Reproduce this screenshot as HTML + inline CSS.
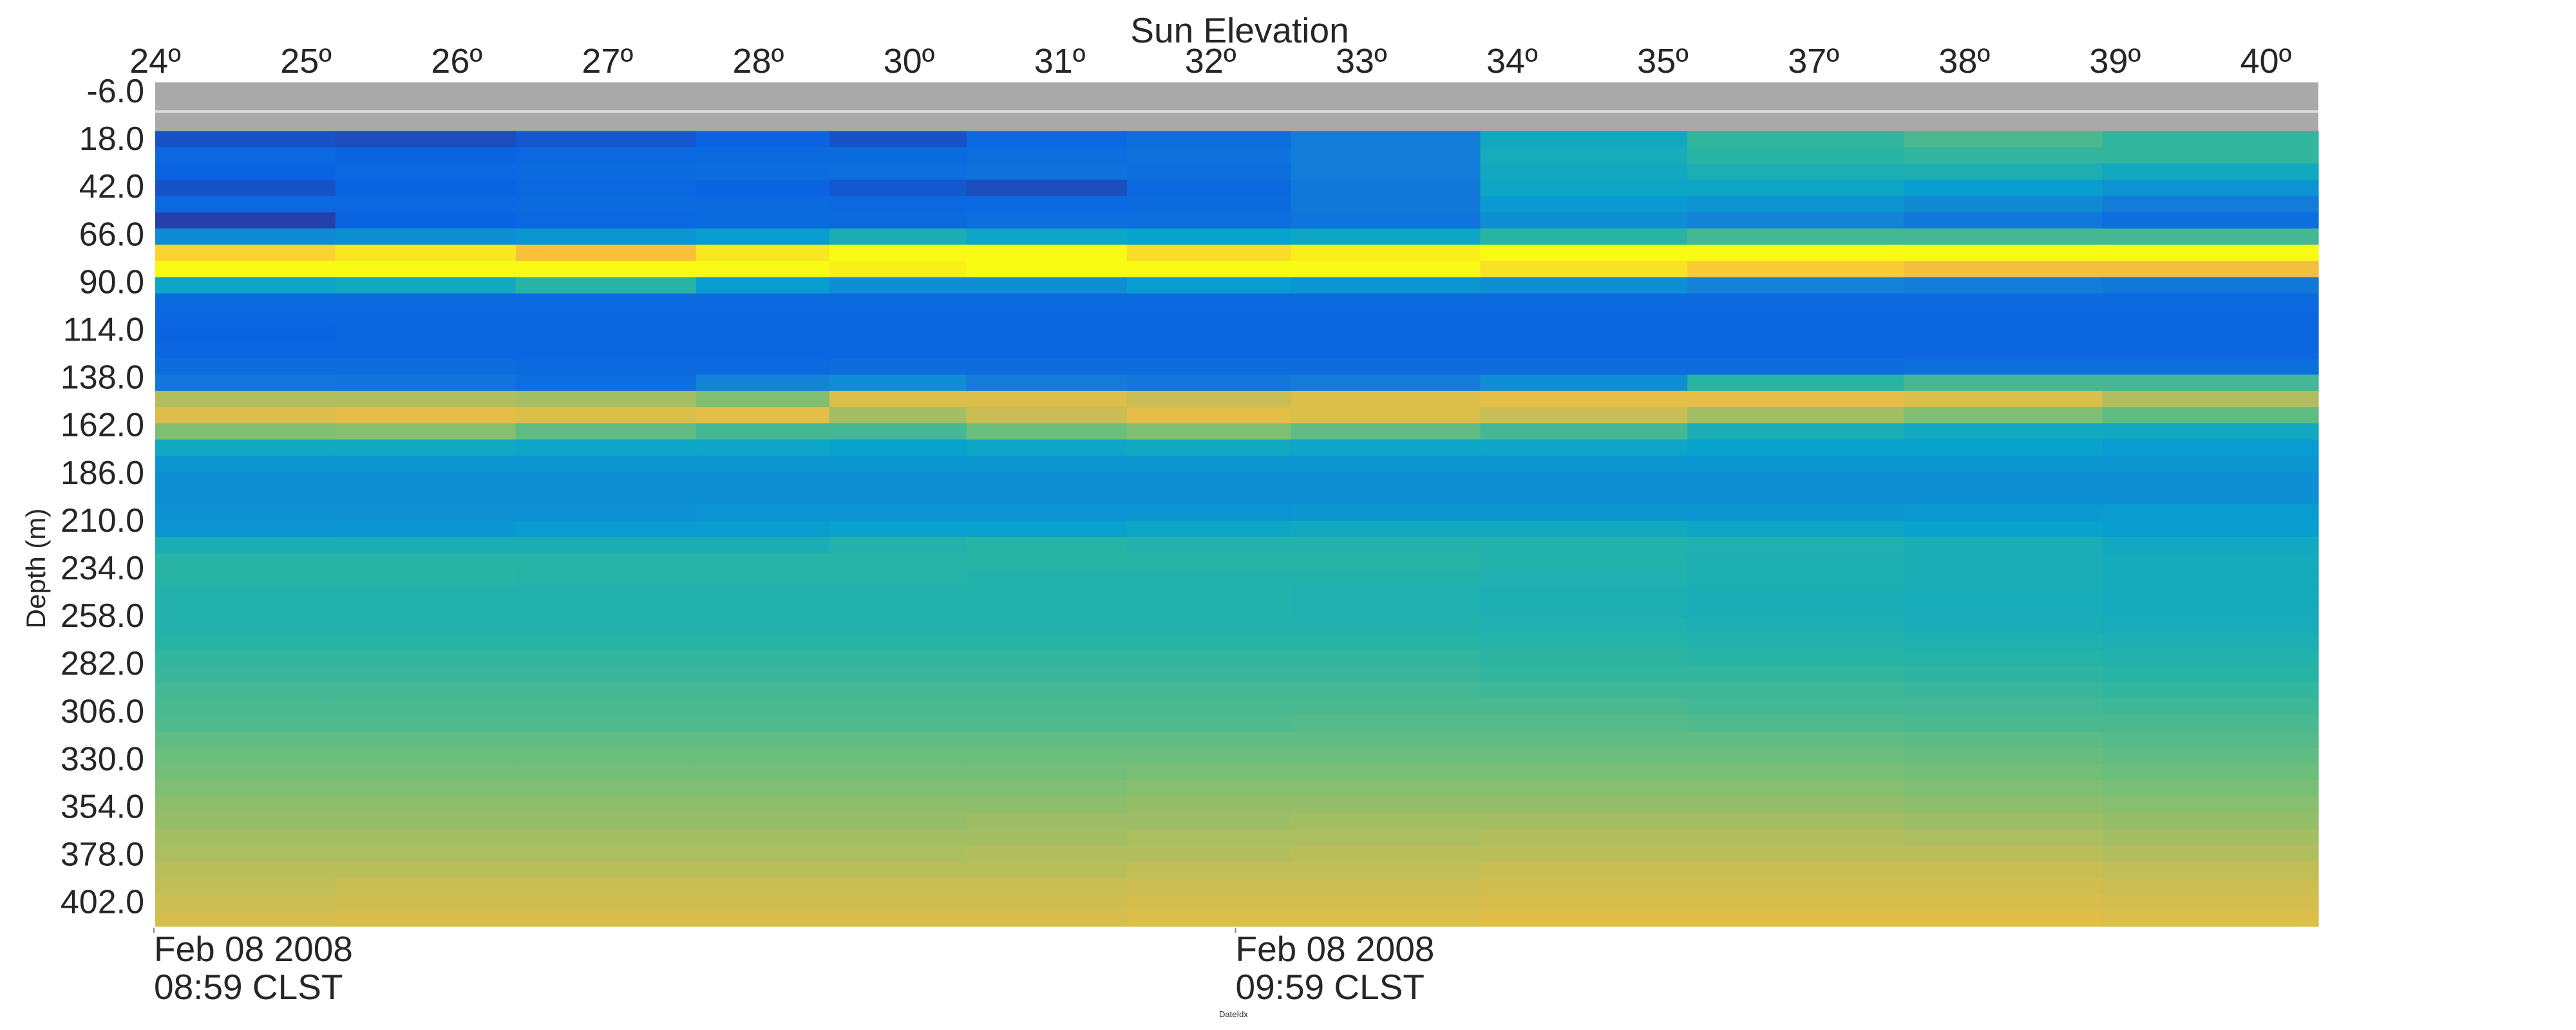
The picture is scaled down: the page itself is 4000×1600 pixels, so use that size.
<!DOCTYPE html>
<html><head><meta charset="utf-8"><style>
html,body{margin:0;padding:0;background:#fff;width:4000px;height:1600px;overflow:hidden}
svg text{font-family:"Liberation Sans",Arial,sans-serif;fill:#262626}
</style></head><body>
<svg id="chart" width="4000" height="1600" viewBox="0 0 4000 1600" xmlns="http://www.w3.org/2000/svg">
<g id="cells"></g>
<g id="axes"></g>
</svg>
<script>
// ---- data ----
const depthStart = -6;
const depthStep = 8;
const depthCount = 52;
const noDataDepths = [-6, 2, 10];
const colStartMin = [0, 10, 20, 30, 37.4, 45, 53.9, 63, 73.5, 85, 97, 108];
const colEndMin = 120;
// colormap values (0..1) per depth row from 18 m down, per time segment
const values = [
[0.07,0.06,0.08,0.10,0.07,0.12,0.15,0.22,0.42,0.52,0.56,0.52],
[0.12,0.10,0.12,0.13,0.13,0.15,0.17,0.22,0.44,0.50,0.52,0.52],
[0.10,0.12,0.13,0.14,0.15,0.17,0.15,0.22,0.42,0.46,0.46,0.42],
[0.07,0.10,0.12,0.10,0.08,0.06,0.12,0.20,0.40,0.40,0.36,0.32],
[0.12,0.12,0.13,0.13,0.12,0.12,0.13,0.20,0.34,0.32,0.28,0.22],
[0.04,0.10,0.12,0.13,0.13,0.15,0.15,0.18,0.30,0.25,0.20,0.15],
[0.28,0.30,0.32,0.35,0.45,0.40,0.38,0.40,0.50,0.55,0.55,0.55],
[0.92,0.96,0.88,0.96,1.00,1.00,0.94,0.98,1.00,1.00,1.00,1.00],
[1.00,1.00,1.00,1.00,0.98,1.00,1.00,1.00,0.95,0.90,0.86,0.86],
[0.40,0.42,0.50,0.35,0.30,0.30,0.35,0.33,0.30,0.25,0.22,0.20],
[0.13,0.13,0.13,0.13,0.13,0.13,0.13,0.13,0.13,0.13,0.13,0.13],
[0.11,0.11,0.11,0.11,0.11,0.11,0.11,0.11,0.11,0.11,0.11,0.11],
[0.10,0.11,0.11,0.11,0.11,0.11,0.11,0.11,0.11,0.11,0.11,0.11],
[0.11,0.11,0.11,0.11,0.11,0.11,0.11,0.11,0.11,0.11,0.11,0.11],
[0.14,0.14,0.13,0.13,0.14,0.14,0.14,0.14,0.14,0.14,0.15,0.15],
[0.20,0.18,0.15,0.25,0.30,0.22,0.20,0.22,0.30,0.50,0.55,0.55],
[0.72,0.72,0.70,0.65,0.80,0.80,0.75,0.80,0.82,0.82,0.80,0.72],
[0.80,0.82,0.80,0.82,0.70,0.75,0.82,0.80,0.75,0.70,0.65,0.60],
[0.65,0.66,0.60,0.55,0.55,0.62,0.65,0.60,0.55,0.45,0.42,0.42],
[0.42,0.42,0.40,0.40,0.38,0.40,0.42,0.40,0.40,0.38,0.38,0.35],
[0.33,0.33,0.33,0.33,0.33,0.33,0.33,0.33,0.33,0.33,0.33,0.33],
[0.30,0.30,0.30,0.30,0.30,0.30,0.30,0.30,0.30,0.30,0.30,0.30],
[0.30,0.30,0.30,0.30,0.30,0.30,0.30,0.30,0.30,0.30,0.30,0.30],
[0.31,0.31,0.31,0.32,0.32,0.32,0.32,0.33,0.33,0.33,0.34,0.35],
[0.32,0.33,0.35,0.35,0.38,0.38,0.40,0.42,0.42,0.40,0.38,0.36],
[0.45,0.45,0.45,0.45,0.48,0.50,0.48,0.48,0.48,0.47,0.45,0.42],
[0.50,0.50,0.50,0.50,0.50,0.50,0.50,0.50,0.48,0.46,0.45,0.43],
[0.50,0.50,0.49,0.49,0.49,0.48,0.48,0.48,0.47,0.46,0.45,0.43],
[0.48,0.48,0.48,0.48,0.48,0.48,0.48,0.47,0.46,0.45,0.44,0.43],
[0.48,0.48,0.48,0.48,0.48,0.48,0.48,0.47,0.46,0.45,0.44,0.43],
[0.48,0.48,0.48,0.48,0.48,0.48,0.48,0.48,0.47,0.46,0.45,0.44],
[0.50,0.50,0.50,0.50,0.50,0.50,0.50,0.50,0.49,0.48,0.47,0.46],
[0.52,0.52,0.52,0.52,0.52,0.52,0.52,0.52,0.51,0.50,0.49,0.48],
[0.53,0.53,0.53,0.53,0.53,0.53,0.53,0.53,0.52,0.52,0.51,0.50],
[0.55,0.55,0.55,0.55,0.55,0.55,0.55,0.55,0.54,0.54,0.53,0.52],
[0.56,0.56,0.56,0.56,0.56,0.56,0.56,0.56,0.56,0.55,0.55,0.54],
[0.57,0.57,0.57,0.57,0.57,0.57,0.57,0.58,0.58,0.57,0.56,0.56],
[0.60,0.60,0.60,0.60,0.60,0.60,0.60,0.60,0.60,0.60,0.59,0.58],
[0.62,0.62,0.62,0.62,0.62,0.62,0.62,0.62,0.62,0.62,0.61,0.60],
[0.63,0.63,0.63,0.63,0.63,0.63,0.64,0.64,0.64,0.64,0.63,0.62],
[0.65,0.65,0.65,0.65,0.65,0.65,0.66,0.66,0.66,0.66,0.65,0.64],
[0.67,0.67,0.67,0.67,0.67,0.67,0.68,0.68,0.68,0.68,0.67,0.66],
[0.68,0.68,0.68,0.68,0.68,0.69,0.69,0.70,0.70,0.70,0.69,0.68],
[0.70,0.70,0.70,0.70,0.70,0.70,0.71,0.71,0.72,0.72,0.71,0.70],
[0.71,0.71,0.71,0.71,0.71,0.72,0.72,0.73,0.73,0.73,0.73,0.72],
[0.73,0.73,0.73,0.73,0.73,0.73,0.74,0.74,0.75,0.75,0.75,0.74],
[0.74,0.75,0.75,0.75,0.75,0.75,0.76,0.76,0.77,0.77,0.77,0.76],
[0.76,0.77,0.77,0.77,0.77,0.77,0.78,0.78,0.79,0.79,0.79,0.78],
[0.78,0.79,0.79,0.79,0.79,0.79,0.80,0.80,0.81,0.81,0.81,0.80]
];
const depthTickLabels = ["-6.0","18.0","42.0","66.0","90.0","114.0","138.0","162.0","186.0","210.0","234.0","258.0","282.0","306.0","330.0","354.0","378.0","402.0"];
const depthTickValues = [-6,18,42,66,90,114,138,162,186,210,234,258,282,306,330,354,378,402];
const sunLabels = ["24º","25º","26º","27º","28º","30º","31º","32º","33º","34º","35º","37º","38º","39º","40º"];
const timeTickMin = [0, 60];
const timeTickLine1 = ["Feb 08 2008","Feb 08 2008"];
const timeTickLine2 = ["08:59 CLST","09:59 CLST"];

// ---- geometry / scales ----
const X0 = 241, X1 = 3600, Y0 = 128, Y1 = 1439;
const xMin = m => X0 + m * (X1 - X0) / colEndMin;
const rowH = (Y1 - Y0) / depthCount;
const yRow = d => Y0 + (d - depthStart) / depthStep * rowH;
const yTick = d => 140 + (d + 6) / 24 * 74.1;

const parula = [[0,[54,42,135]],[0.1,[10,100,225]],[0.25,[20,130,214]],[0.375,[6,162,206]],[0.5,[40,180,165]],[0.625,[110,190,122]],[0.75,[200,190,84]],[0.875,[250,190,60]],[1,[249,250,20]]];
function cmap(v){
  v=Math.max(0,Math.min(1,v));
  for(let i=1;i<parula.length;i++){
    if(v<=parula[i][0]){
      const a=parula[i-1][0],ca=parula[i-1][1],b=parula[i][0],cb=parula[i][1];
      const t=(v-a)/(b-a);
      return 'rgb('+ca.map((c,k)=>Math.round(c+(cb[k]-c)*t)).join(',')+')';
    }
  }
  return 'rgb(249,250,20)';
}
const NS='http://www.w3.org/2000/svg';
function mk(tag,attrs,parent){const e=document.createElementNS(NS,tag);for(const k in attrs)e.setAttribute(k,attrs[k]);parent.appendChild(e);return e;}

const cells=document.getElementById('cells');
noDataDepths.forEach(d=>{
  const r=mk('rect',{x:X0,y:yRow(d),width:X1-X0,height:rowH+0.6,fill:'#a9a9a9'},cells);
  
  
});
const surf=mk('rect',{x:X0,y:yRow(2)+18,width:X1-X0,height:4,fill:'#dcdcdc'},cells);


values.forEach((row,ri)=>{
  const d=18+ri*depthStep;
  row.forEach((v,ci)=>{
    const xa=xMin(colStartMin[ci]);
    const xb=ci+1<colStartMin.length?xMin(colStartMin[ci+1]):xMin(colEndMin);
    const r=mk('rect',{x:xa,y:yRow(d),width:xb-xa+0.6,height:rowH+0.6,fill:cmap(v)},cells);
    
    
  });
});

const axes=document.getElementById('axes');
const t=mk('text',{x:1925,y:66,'font-size':55,'text-anchor':'middle'},axes);
t.textContent='Sun Elevation';


sunLabels.forEach((s,i)=>{
  const e=mk('text',{x:241+i*234.1,y:113,'font-size':54,'text-anchor':'middle'},axes);
  e.textContent=s;
  
  
});
depthTickValues.forEach((d,i)=>{
  const e=mk('text',{x:224,y:yTick(d)+19,'font-size':52,'text-anchor':'end'},axes);
  e.textContent=depthTickLabels[i];
  
  
});
const yt=mk('text',{x:0,y:0,'font-size':42,'text-anchor':'middle',transform:'translate(70,883) rotate(-90)'},axes);
yt.textContent='Depth (m)';


timeTickMin.forEach((m,i)=>{
  const x=xMin(m)-2;
  const l=mk('line',{x1:x,y1:1441,x2:x,y2:1449,stroke:'#888','stroke-width':2},axes);
  
  
  const a=mk('text',{x:x,y:1493,'font-size':55},axes);
  a.textContent=timeTickLine1[i];
  
  
  const b=mk('text',{x:x,y:1552,'font-size':55},axes);
  b.textContent=timeTickLine2[i];
  
  
});
const xt=mk('text',{x:1893,y:1580,'font-size':13},axes);
xt.textContent='DateIdx';


</script>
</body></html>
